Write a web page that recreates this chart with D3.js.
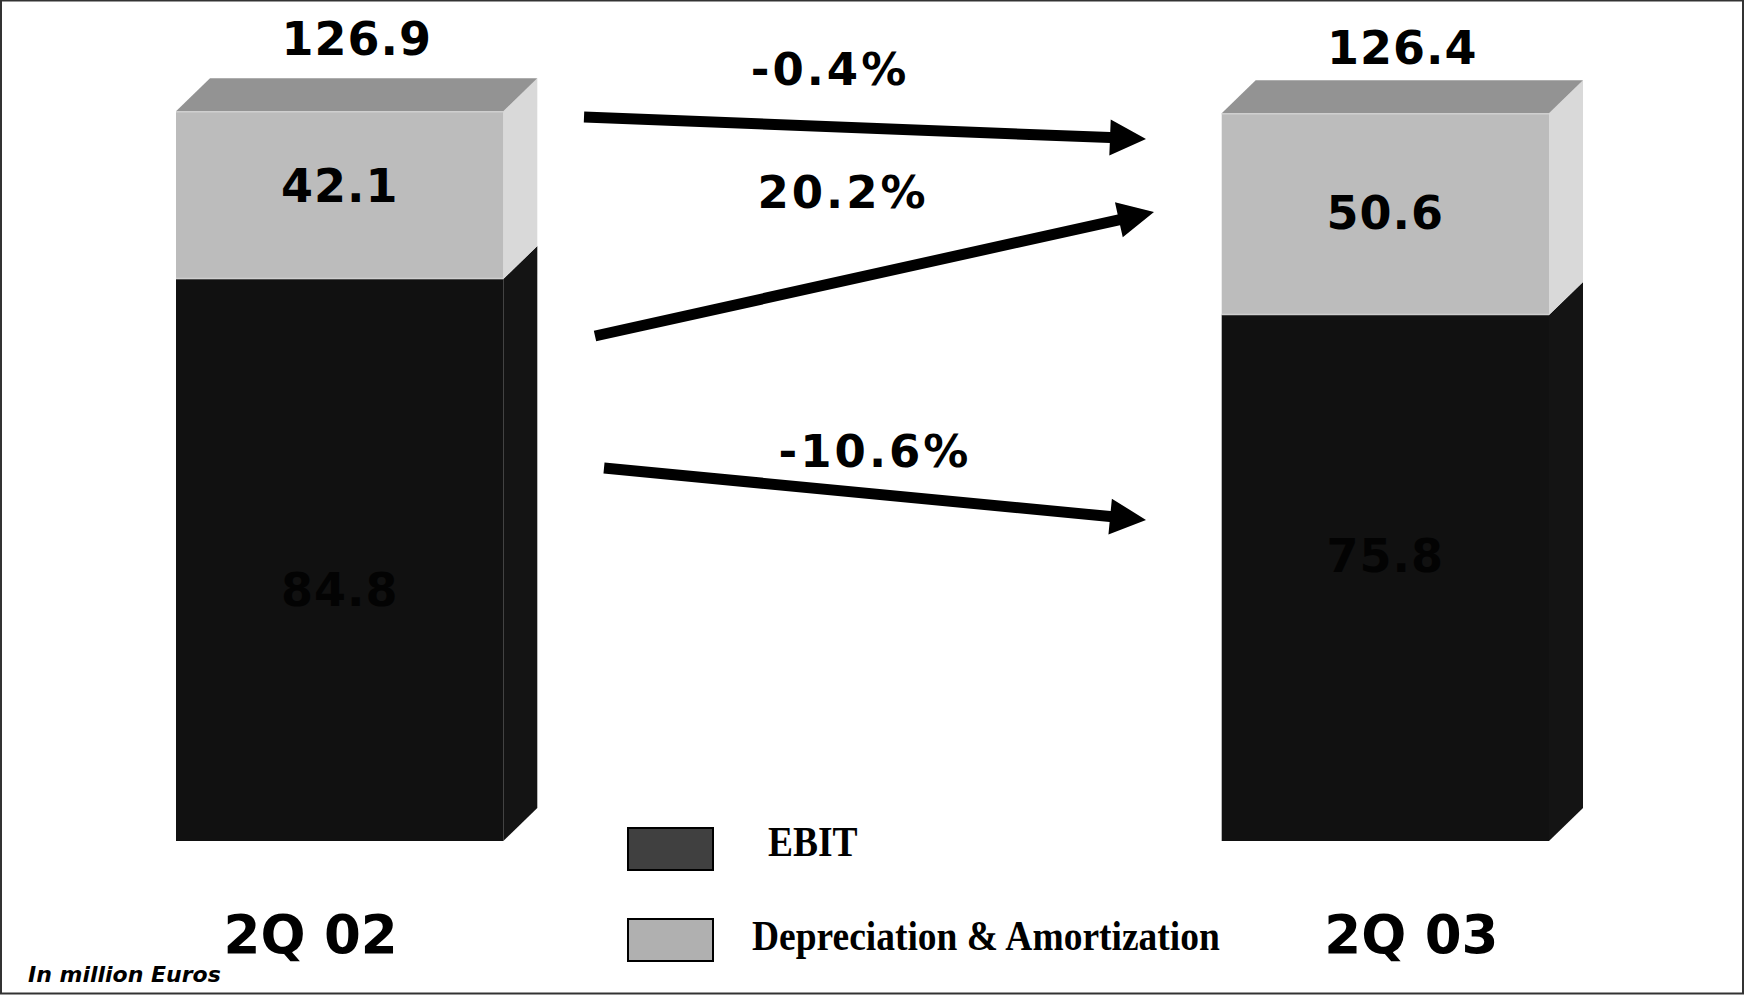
<!DOCTYPE html>
<html>
<head>
<meta charset="utf-8">
<script src="https://cdn.jsdelivr.net/npm/d3@7"></script>
<style>
  html, body { margin: 0; padding: 0; background: #fff; }
  svg { display: block; }
</style>
</head>
<body>
<svg id="chart" width="1745" height="996"></svg>
<script>
// ---------- data ----------
const categories = ["2Q 02", "2Q 03"];
const ebit = [84.8, 75.8];
const depAmort = [42.1, 50.6];
const totals = [126.9, 126.4];
const seriesKeys = ["ebit", "da"];
const seriesNames = ["EBIT", "Depreciation & Amortization"];
const unitNote = "In million Euros";

// ---------- layout ----------
const W = 1745, H = 996;
const depth = { dx: 34, dy: 33 };
const baseY = 841;
const axisFloor = -56.2;          // value axis minimum of the original 3D chart
const valueFont = "'DejaVu Sans', Verdana, sans-serif";

const svg = d3.select("#chart");

// frame
svg.append("rect")
  .attr("x", 1).attr("y", 0.5).attr("width", W - 3).attr("height", H - 3)
  .attr("fill", "none").attr("stroke", "#333").attr("stroke-width", 2);

// scales
const x = d3.scaleBand()
  .domain(categories)
  .range([176, 1549])
  .paddingInner(0.687)
  .paddingOuter(0);

const y = d3.scaleLinear()
  .domain([axisFloor, 126.65])
  .range([baseY, 112.25]);

const rows = categories.map((c, i) => ({ cat: c, ebit: ebit[i], da: depAmort[i], total: totals[i] }));
const stack = d3.stack().keys(seriesKeys).value((d, k) => d[k]);
const stacked = stack(rows);

// colours for faces
const faceColors = {
  ebit: { front: "#111111", side: "#141414", top: "#1a1a1a" },
  da:   { front: "#bcbcbc", side: "#d9d9d9", top: "#939393" }
};
const legendColors = { ebit: "#404040", da: "#b0b0b0" };

const bw = x.bandwidth();
const y0 = v => (v === 0 ? y(axisFloor) : y(v));  // stacked segments start at the axis floor

const gBars = svg.append("g");
stacked.forEach((layer, li) => {
  const key = layer.key;
  const col = faceColors[key];
  layer.forEach((seg, i) => {
    const cat = categories[i];
    const x0 = x(cat), x1 = x0 + bw;
    const yb = y0(seg[0]), yt = y(seg[1]);
    const g = gBars.append("g");
    // side face
    g.append("path")
      .attr("d", d3.line()([[x1, yt], [x1 + depth.dx, yt - depth.dy], [x1 + depth.dx, yb - depth.dy], [x1, yb]]) + "Z")
      .attr("fill", col.side);
    // top face only for the top segment
    if (li === stacked.length - 1) {
      g.append("path")
        .attr("d", d3.line()([[x0, yt], [x0 + depth.dx, yt - depth.dy], [x1 + depth.dx, yt - depth.dy], [x1, yt]]) + "Z")
        .attr("fill", col.top);
    }
    // front face
    g.append("rect")
      .attr("x", x0).attr("y", yt).attr("width", bw).attr("height", yb - yt)
      .attr("fill", col.front);
    if (key === "da") {
      g.append("line")
        .attr("x1", x0).attr("x2", x1).attr("y1", yt + 0.5).attr("y2", yt + 0.5)
        .attr("stroke", "#cfcfcf").attr("stroke-width", 1.5);
      g.append("line")
        .attr("x1", x0).attr("x2", x1).attr("y1", yb - 0.5).attr("y2", yb - 0.5)
        .attr("stroke", "#cfcfcf").attr("stroke-width", 1.5);
    }
  });
});

// segment value labels
const segLabelDy = { ebit: [29, -23], da: [-10, -2] };
const fsVal = 46;
stacked.forEach(layer => {
  const key = layer.key;
  layer.forEach((seg, i) => {
    const cat = categories[i];
    const mid = (y0(seg[0]) + y(seg[1])) / 2 + segLabelDy[key][i];
    svg.append("text")
      .attr("x", x(cat) + bw / 2)
      .attr("y", mid + fsVal * 0.365)
      .attr("text-anchor", "middle")
      .attr("font-family", valueFont)
      .attr("font-weight", "bold")
      .attr("font-size", fsVal)
      .attr("letter-spacing", 1)
      .attr("fill", key === "ebit" ? "#030303" : "#000")
      .text(d3.format(".1f")(seg[1] - seg[0]));
  });
});

// total labels above bars
const totalDy = [-23, -16.5];
rows.forEach((r, i) => {
  svg.append("text")
    .attr("x", x(r.cat) + (bw + depth.dx) / 2)
    .attr("y", y(r.total) - depth.dy + totalDy[i])
    .attr("text-anchor", "middle")
    .attr("font-family", valueFont)
    .attr("font-weight", "bold")
    .attr("font-size", fsVal)
    .attr("letter-spacing", 1)
    .attr("fill", "#000")
    .text(d3.format(".1f")(r.total));
});

// category labels
const catLabelDx = [-29, 26];
categories.forEach((c, i) => {
  svg.append("text")
    .attr("x", x(c) + bw / 2 + catLabelDx[i])
    .attr("y", 953)
    .attr("text-anchor", "middle")
    .attr("font-family", valueFont)
    .attr("font-weight", "bold")
    .attr("font-size", 53)
    .attr("fill", "#000")
    .text(c);
});

// change arrows (annotations)
const pct = d3.formatLocale({ decimal: ".", thousands: ",", grouping: [3], currency: ["", ""], minus: "-" }).format(".1%");
const changes = [
  { from: totals[0],   to: totals[1],   tail: [584, 117], tip: [1146, 139], label: [830, 85] },
  { from: depAmort[0], to: depAmort[1], tail: [595, 336], tip: [1154, 212], label: [843, 208] },
  { from: ebit[0],     to: ebit[1],     tail: [604, 468], tip: [1146, 520], label: [875, 467] }
];
const lineW = 11, headL = 36, headH = 18;
changes.forEach(ch => {
  const [tx, ty] = ch.tail, [px, py] = ch.tip;
  const len = Math.hypot(px - tx, py - ty);
  const ux = (px - tx) / len, uy = (py - ty) / len;
  const nx = -uy, ny = ux;
  const bx = px - ux * headL, by = py - uy * headL;
  const pts = [
    [tx + nx * lineW / 2, ty + ny * lineW / 2],
    [bx + nx * lineW / 2, by + ny * lineW / 2],
    [bx + nx * headH, by + ny * headH],
    [px, py],
    [bx - nx * headH, by - ny * headH],
    [bx - nx * lineW / 2, by - ny * lineW / 2],
    [tx - nx * lineW / 2, ty - ny * lineW / 2]
  ];
  svg.append("path").attr("d", d3.line()(pts) + "Z").attr("fill", "#000");
  svg.append("text")
    .attr("x", ch.label[0]).attr("y", ch.label[1])
    .attr("text-anchor", "middle")
    .attr("font-family", valueFont)
    .attr("font-weight", "bold")
    .attr("font-size", 45)
    .attr("letter-spacing", 3)
    .attr("fill", "#000")
    .text(pct((ch.to - ch.from) / ch.from));
});

// legend
const legend = svg.append("g");
const legendY = [828, 919];
const legendTextY = [856, 950];
seriesKeys.forEach((k, i) => {
  legend.append("rect")
    .attr("x", 628).attr("y", legendY[i]).attr("width", 85).attr("height", 42)
    .attr("fill", legendColors[k]).attr("stroke", "#000").attr("stroke-width", 2);
  const tx = i === 0 ? 768 : 752, ty = legendTextY[i];
  legend.append("text")
    .attr("transform", `translate(${tx},${ty}) scale(1,1.1)`)
    .attr("font-family", "'Liberation Serif', 'Times New Roman', serif")
    .attr("font-weight", "bold")
    .attr("font-size", 37.5)
    .attr("fill", "#000")
    .text(seriesNames[i]);
});

// unit note
svg.append("text")
  .attr("x", 28).attr("y", 982)
  .attr("font-family", valueFont)
  .attr("font-weight", "bold")
  .attr("font-style", "italic")
  .attr("font-size", 22)
  .attr("fill", "#000")
  .text(unitNote);
</script>
</body>
</html>
